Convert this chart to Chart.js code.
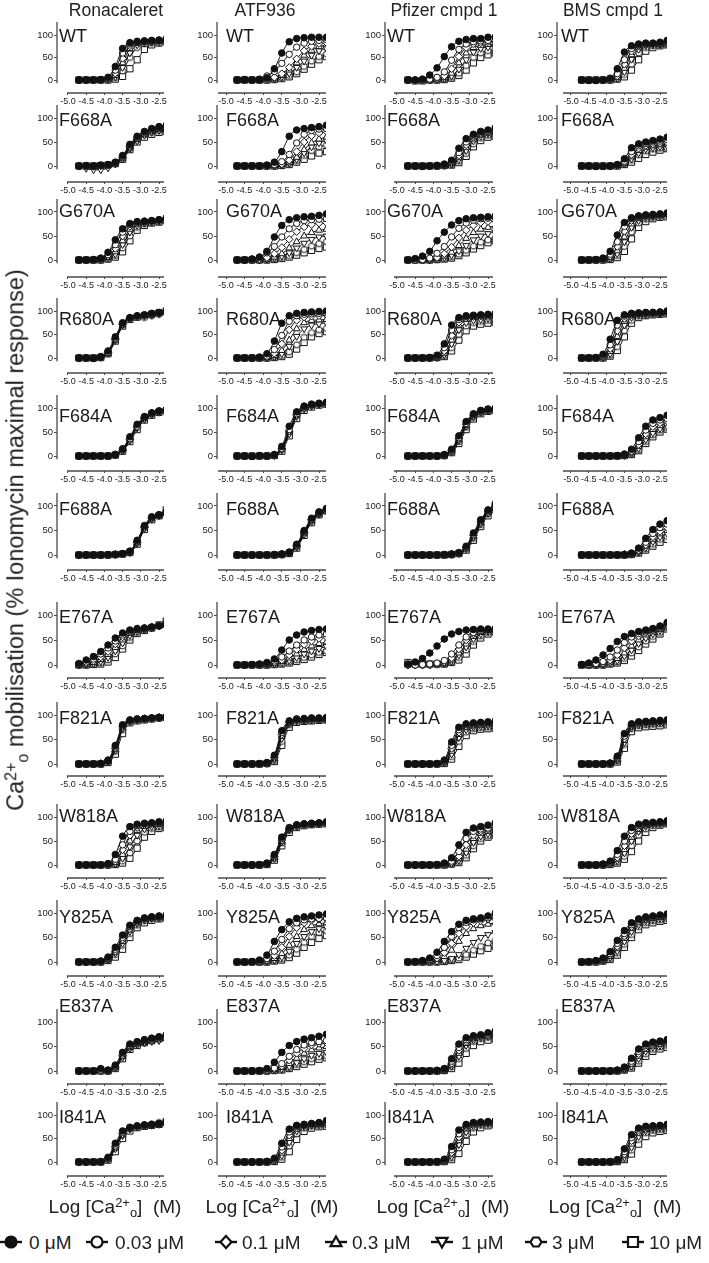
<!DOCTYPE html>
<html><head><meta charset="utf-8">
<script src="https://cdn.jsdelivr.net/npm/chart.js"></script>
<style>
body{margin:0;width:709px;height:1263px;background:#fff;position:relative;overflow:hidden;font-family:"Liberation Sans",Arial,sans-serif;color:#222}
canvas{position:absolute}
.t{position:absolute;white-space:nowrap;line-height:1;z-index:5}
.sp{position:relative;top:-0.45em;font-size:0.68em}
.sb{position:relative;top:0.32em;font-size:0.68em}
</style></head><body>
<script>
// ---------------- data ----------------
const X = [-4.7,-4.5,-4.3,-4.1,-3.9,-3.7,-3.5,-3.3,-3.1,-2.9,-2.7,-2.5,-2.3];
const X_TICKS = [-5.0,-4.5,-4.0,-3.5,-3.0,-2.5];
const Y_TICKS = [0,50,100];
const COMPOUNDS = ['Ronacaleret','ATF936','Pfizer cmpd 1','BMS cmpd 1'];
const MUTANTS = ['WT','F668A','G670A','R680A','F684A','F688A','E767A','F821A','W818A','Y825A','E837A','I841A'];
const CONCS = ['0 μM','0.03 μM','0.1 μM','0.3 μM','1 μM','3 μM','10 μM'];

const RON_WT = [[0,0,0,1,6,30,70,83,86,87,88,89,92],[0,0,0,0,4,22,60,80,85,86,87,88,90],[0,0,0,0,3,15,48,76,84,85,86,87,88],[0,0,0,0,2,10,38,70,82,84,85,86,88],[0,0,0,0,1,7,28,60,78,83,84,85,87],[0,0,0,0,1,5,20,50,72,80,82,84,86],[0,0,0,0,0,2,8,25,45,68,78,82,85]];
const RON_F668A = [[0,1,0,2,3,8,22,45,62,72,78,82,85],[0,0,0,1,2,7,20,42,60,70,76,80,82],[0,0,-1,0,2,6,18,40,58,68,74,78,80],[0,0,-2,-1,1,5,16,38,55,66,72,76,78],[0,-5,-8,-8,-4,4,15,36,52,64,70,74,76],[0,0,0,0,1,5,16,37,54,65,70,74,75],[0,0,0,1,2,5,14,34,50,60,66,70,72]];
const RON_G670A = [[0,0,1,4,16,42,65,76,80,81,82,84,88],[0,0,0,3,11,32,58,74,79,80,82,84,87],[0,0,0,2,8,24,50,70,78,80,81,83,86],[0,0,0,1,5,17,40,64,75,79,80,82,85],[0,0,0,1,4,12,32,58,72,77,79,81,84],[0,0,0,0,3,9,25,50,68,75,78,80,83],[0,0,0,0,2,6,17,40,62,72,77,79,82]];
const RON_R680A = [[0,0,-1,3,15,45,75,86,90,92,95,97,100],[0,0,0,2,12,42,73,85,89,91,94,96,98],[0,0,0,2,12,40,72,84,88,90,93,95,97],[0,0,0,2,10,38,70,84,88,90,92,95,98],[0,0,0,1,10,38,70,83,87,89,91,94,96],[0,0,0,2,11,40,72,84,88,86,90,93,96],[0,0,0,1,9,36,68,82,87,90,93,96,100]];
const RON_F684A = [[0,0,0,0,0,3,15,40,66,82,90,94,97],[0,0,0,0,0,2,13,36,62,80,88,93,96],[0,0,0,0,0,2,12,34,60,78,87,92,95],[0,0,0,0,0,3,14,38,64,80,89,93,96],[0,0,0,0,0,2,11,32,58,76,86,91,94],[0,0,0,0,0,2,12,35,62,79,88,92,95],[0,0,0,0,0,2,10,30,55,75,85,91,94]];
const RON_F688A = [[0,0,0,0,1,1,3,8,30,60,78,82,88],[0,0,0,0,0,1,2,7,28,58,76,82,86],[0,0,0,0,0,1,2,6,26,56,75,81,85],[0,0,0,0,0,1,2,6,25,55,74,80,84],[0,0,0,0,0,1,2,5,24,54,73,80,84],[0,0,0,0,0,1,2,6,26,57,76,82,90],[0,0,0,0,0,1,2,5,22,52,72,80,92]];
const RON_E767A = [[3,10,17,27,40,54,64,70,73,74,76,78,80],[1,6,12,22,34,48,60,68,72,74,76,78,80],[0,4,8,16,27,42,56,66,71,73,75,78,82],[0,2,5,11,21,35,50,63,69,72,75,78,83],[0,1,3,7,15,28,44,59,67,71,74,78,84],[0,0,2,4,10,22,38,55,65,70,74,79,86],[0,0,1,2,6,15,32,50,63,69,74,80,88]];
const RON_F821A = [[0,0,0,1,8,38,80,90,92,93,94,95,96],[0,0,0,1,7,35,78,89,91,93,94,95,96],[0,0,0,1,6,32,76,88,91,92,93,95,96],[0,0,0,0,5,30,74,88,90,92,93,95,96],[0,0,0,0,5,28,72,87,90,92,93,94,95],[0,0,0,0,4,26,70,86,90,91,93,94,95],[0,0,0,0,3,20,62,84,88,90,92,94,95]];
const RON_W818A = [[0,0,0,0,3,22,60,80,85,87,88,90,92],[0,0,0,0,2,12,42,70,82,86,87,88,90],[0,0,0,0,1,8,32,62,78,84,86,87,88],[0,0,0,0,1,5,22,50,72,80,84,85,86],[0,0,0,0,0,3,14,38,62,75,80,82,84],[0,0,0,0,0,2,8,25,50,68,76,79,82],[0,0,0,0,0,1,4,14,35,58,70,76,78]];
const RON_Y825A = [[0,0,0,2,10,30,55,75,85,90,92,94,96],[0,0,0,1,8,26,50,72,84,89,92,93,95],[0,0,0,1,7,22,46,68,82,88,90,92,94],[0,0,0,1,6,20,42,65,80,87,90,91,93],[0,0,0,1,5,18,38,62,78,86,89,90,92],[0,0,0,0,4,15,34,58,75,84,88,90,91],[0,0,0,0,3,10,26,50,70,80,85,88,90]];
const RON_E837A = [[0,0,0,5,2,12,38,55,60,64,67,70,74],[0,0,0,2,1,10,35,52,58,62,65,68,70],[0,0,0,1,0,8,32,50,56,60,63,66,68],[0,0,0,1,0,7,30,48,55,59,62,65,67],[0,0,0,0,0,6,28,46,53,57,60,62,64],[0,0,0,1,0,7,30,48,55,58,62,65,66],[0,0,0,0,0,5,25,44,52,58,62,66,70]];
const RON_I841A = [[0,0,0,1,10,40,66,74,77,79,80,82,85],[0,0,0,1,8,36,63,73,76,78,80,81,84],[0,0,0,0,7,33,60,72,76,78,79,81,83],[0,0,0,0,6,30,58,71,75,77,79,80,82],[0,0,0,0,5,28,56,70,75,77,78,80,82],[0,0,0,0,6,30,58,71,76,78,80,84,88],[0,0,0,0,4,22,50,66,73,76,78,80,86]];

const ATF_WT = [[0,1,0,1,5,25,60,85,92,94,95,95,95],[0,0,0,2,9,19,37,57,73,82,86,88,90],[0,0,0,0,3,6,14,28,47,65,75,81,83],[0,0,0,0,2,4,10,22,38,55,66,74,78],[0,0,0,0,1,3,7,15,28,42,55,65,70],[0,0,0,0,1,2,5,10,18,30,42,52,58],[0,0,0,0,0,1,3,7,14,24,35,45,52]];
const ATF_F668A = [[0,0,0,0,2,8,30,62,75,78,80,82,85],[0,0,0,0,1,3,9,24,48,66,74,77,78],[0,0,0,0,0,2,4,12,30,50,63,69,72],[0,0,0,0,0,1,3,8,18,34,48,56,60],[0,0,0,0,0,1,2,6,14,27,40,48,53],[0,0,0,0,0,0,2,5,11,22,32,40,44],[0,0,0,0,0,0,1,3,8,14,21,27,30]];
const ATF_G670A = [[0,0,2,6,18,48,72,84,88,90,91,93,96],[0,0,2,6,15,28,48,65,76,82,84,85,86],[0,0,0,2,5,13,26,43,59,69,74,77,78],[0,0,0,1,2,6,13,25,38,50,57,62,64],[0,0,0,0,1,4,8,15,25,35,43,48,50],[0,0,0,0,1,2,5,9,15,22,29,34,38],[0,0,0,0,0,1,3,6,10,15,20,24,27]];
const ATF_R680A = [[0,0,0,2,9,36,74,90,95,97,98,99,100],[0,0,0,1,4,18,48,78,90,93,94,95,96],[0,0,0,0,2,10,30,60,80,87,89,90,92],[0,0,0,0,1,5,16,38,62,75,80,81,82],[0,0,0,0,1,3,9,25,46,62,70,73,75],[0,0,0,0,0,2,5,13,28,44,54,60,63],[0,0,0,0,0,1,3,8,19,33,45,52,56]];
const ATF_F684A = [[0,0,-1,1,0,3,20,62,92,104,108,110,112],[0,0,0,0,0,2,16,55,88,102,107,109,110],[0,0,0,0,0,2,15,52,86,100,106,108,110],[0,0,0,0,0,2,14,50,85,100,105,108,110],[0,0,0,0,0,1,12,46,82,98,104,107,108],[0,0,0,0,0,2,14,50,85,99,105,108,109],[0,0,0,0,0,1,10,42,78,95,102,106,108]];
const ATF_F688A = [[0,0,0,0,0,1,2,6,22,50,75,88,95],[0,0,0,0,0,1,2,5,20,48,73,86,93],[0,0,0,0,0,0,2,5,19,46,72,85,92],[0,0,0,0,0,0,1,4,18,45,70,84,92],[0,0,0,0,0,0,1,4,16,42,68,83,90],[0,0,0,0,0,0,1,4,17,44,70,84,91],[0,0,0,0,0,0,1,3,14,40,66,82,90]];
const ATF_E767A = [[0,0,1,2,5,12,30,50,60,66,69,71,72],[0,0,0,1,3,8,16,28,40,50,56,60,62],[0,0,0,1,2,5,10,20,31,41,48,53,56],[0,0,0,0,1,3,7,14,22,31,38,43,46],[0,0,0,0,1,2,5,9,15,22,28,33,37],[0,0,0,0,0,1,3,6,10,15,20,25,28],[0,0,0,0,0,1,2,4,7,11,16,21,25]];
const ATF_F821A = [[0,0,0,1,3,18,68,88,92,93,94,94,95],[0,0,0,0,2,15,64,86,91,92,93,93,94],[0,0,0,0,2,13,60,85,90,91,92,92,93],[0,0,0,0,1,11,56,83,89,90,91,91,92],[0,0,0,0,1,9,52,82,88,89,90,90,91],[0,0,0,0,1,7,46,80,87,88,89,90,90],[0,0,0,0,1,5,38,75,85,87,88,89,90]];
const ATF_W818A = [[0,0,0,1,4,22,58,78,84,86,87,88,90],[0,0,0,0,3,20,55,76,83,85,86,87,89],[0,0,0,0,3,18,52,75,82,85,86,87,88],[0,0,0,0,2,16,50,74,82,84,85,86,88],[0,0,0,0,2,14,48,73,81,84,85,86,87],[0,0,0,0,2,13,46,72,80,83,85,86,87],[0,0,0,0,1,10,40,68,78,82,84,85,86]];
const ATF_Y825A = [[0,0,1,4,14,42,66,82,89,92,94,96,98],[0,0,0,2,7,22,46,68,80,86,88,89,90],[0,0,0,1,4,13,30,52,70,80,85,87,88],[0,0,0,0,2,7,17,34,52,66,74,78,80],[0,0,0,0,1,4,10,22,38,52,62,68,72],[0,0,0,0,1,3,6,14,26,40,52,60,64],[0,0,0,0,0,2,4,9,18,30,40,48,54]];
const ATF_E837A = [[0,0,0,1,5,18,38,52,60,65,68,71,75],[0,0,0,0,2,6,15,30,44,53,58,60,62],[0,0,0,0,1,4,10,22,36,46,53,56,58],[0,0,0,0,1,3,7,15,26,36,43,47,50],[0,0,0,0,0,2,4,9,17,25,32,36,38],[0,0,0,0,0,1,3,7,13,19,25,29,31],[0,0,0,0,0,1,2,5,9,14,19,24,27]];
const ATF_I841A = [[0,0,0,0,1,8,40,70,78,80,82,84,88],[0,0,0,0,1,6,32,64,76,80,81,83,85],[0,0,0,0,1,4,25,57,73,78,80,82,84],[0,0,0,0,0,3,19,50,70,77,79,80,82],[0,0,0,0,0,2,14,42,66,75,78,79,80],[0,0,0,0,0,2,10,34,60,72,76,78,79],[0,0,0,0,0,1,6,22,48,65,72,75,76]];

const PFZ_WT = [[0,0,2,11,27,52,74,86,90,92,92,95,96],[0,0,0,2,6,18,44,68,80,85,87,88,88],[0,0,0,1,3,9,25,52,72,80,83,85,85],[0,0,0,0,2,5,15,38,60,72,77,79,80],[0,0,0,0,1,3,9,24,45,62,70,73,75],[0,0,0,0,0,2,6,15,32,50,60,65,68],[0,-2,-2,0,0,1,4,10,22,38,50,56,60]];
const PFZ_F668A = [[0,0,-1,0,1,4,12,37,57,66,72,75,80],[0,0,0,0,1,3,9,28,50,63,69,72,76],[0,0,0,0,1,2,7,22,44,60,67,70,74],[0,0,0,0,0,2,5,17,38,56,65,69,72],[0,0,0,0,0,1,4,13,32,52,62,67,70],[0,0,0,0,0,1,3,10,26,46,58,64,68],[0,0,0,0,0,1,2,7,20,40,53,60,62]];
const PFZ_G670A = [[0,3,8,18,40,58,73,82,86,88,89,90,92],[0,0,1,4,14,28,48,66,77,83,86,87,88],[0,0,0,2,5,13,27,46,62,72,78,80,82],[0,0,0,1,3,8,16,30,45,57,64,68,71],[0,0,0,0,2,5,10,19,30,42,50,55,58],[0,0,0,0,1,3,6,12,20,29,37,42,46],[0,0,0,0,1,2,4,9,15,23,30,36,40]];
const PFZ_R680A = [[0,0,0,1,6,30,70,86,90,91,92,93,95],[0,0,0,1,4,22,60,82,88,90,91,92,93],[0,0,0,0,3,15,48,76,85,88,89,90,92],[0,0,0,0,2,10,38,70,82,86,88,89,90],[0,0,0,0,1,7,30,60,75,80,82,84,85],[0,0,0,0,1,5,22,50,68,75,78,80,82],[0,0,0,0,1,3,15,38,58,68,72,74,76]];
const PFZ_F684A = [[0,0,0,0,0,3,14,42,72,88,95,98,100],[0,0,0,0,0,2,12,38,68,86,94,97,99],[0,0,0,0,0,2,11,36,66,84,93,96,98],[0,0,0,0,0,2,10,34,64,83,92,96,98],[0,0,0,0,0,1,9,32,62,82,91,95,97],[0,0,0,0,0,1,8,30,60,80,90,94,96],[0,0,0,0,0,1,7,26,55,77,88,93,95]];
const PFZ_F688A = [[0,0,0,0,0,1,2,5,18,45,72,92,105],[0,0,0,0,0,1,2,4,16,42,70,90,102],[0,0,0,0,0,0,1,4,15,40,68,88,100],[0,0,0,0,0,0,1,4,14,38,66,87,98],[0,0,0,0,0,0,1,3,13,36,64,85,96],[0,0,0,0,0,0,1,3,12,34,62,84,95],[0,0,0,0,0,0,1,3,10,30,58,80,92]];
const PFZ_E767A = [[2,6,13,24,38,52,62,67,70,71,72,72,73],[0,0,1,2,4,9,22,40,56,65,69,71,72],[0,0,0,1,3,6,14,32,50,62,68,70,72],[0,0,0,1,2,4,10,24,42,57,65,69,71],[0,0,0,0,2,3,8,20,36,52,62,67,70],[0,0,0,0,1,2,6,15,30,47,58,65,68],[5,3,2,2,2,2,5,10,22,40,54,62,66]];
const PFZ_F821A = [[0,0,0,0,1,8,45,75,82,84,85,86,88],[0,0,0,0,1,6,38,70,80,82,83,84,85],[0,0,0,0,0,5,32,65,77,80,81,82,83],[0,0,0,0,0,4,26,60,74,78,79,80,81],[0,0,0,0,0,3,20,54,70,75,77,78,78],[0,0,0,0,0,2,15,46,65,72,74,75,76],[0,0,0,0,0,1,10,36,58,68,71,72,73]];
const PFZ_W818A = [[0,0,0,0,1,4,15,42,68,77,80,83,88],[0,0,0,0,0,2,8,28,55,70,75,77,80],[0,0,0,0,0,1,5,18,42,62,71,74,76],[0,0,0,0,0,1,4,13,33,55,66,70,72],[0,0,0,0,0,1,3,10,26,47,60,65,68],[0,0,0,0,0,0,2,7,20,40,55,61,64],[0,0,0,0,0,0,2,5,15,34,50,58,62]];
const PFZ_Y825A = [[0,1,3,8,20,42,62,77,85,88,90,94,100],[0,0,2,5,13,30,52,70,81,86,88,90,92],[0,0,1,3,8,19,38,58,72,80,84,87,88],[0,0,0,2,5,11,24,42,58,68,74,77,80],[0,0,0,0,1,3,7,15,28,40,50,56,60],[0,0,0,0,1,2,4,8,15,24,32,39,44],[0,0,0,0,0,1,3,5,10,16,23,28,32]];
const PFZ_E837A = [[0,0,0,0,1,5,25,55,68,72,74,78,82],[0,0,0,0,1,4,20,48,64,70,72,75,78],[0,0,0,0,1,3,16,42,60,68,71,74,76],[0,0,0,0,0,2,12,36,56,66,70,72,74],[0,0,0,0,0,2,10,30,52,63,68,70,72],[0,0,0,0,0,1,8,25,46,60,66,69,71],[0,0,0,0,0,1,5,16,36,52,60,63,65]];
const PFZ_I841A = [[0,0,0,0,1,6,33,68,80,84,85,86,88],[0,0,0,0,1,4,26,60,77,83,84,85,87],[0,0,0,0,0,3,20,53,74,81,83,84,86],[0,0,0,0,0,2,15,45,70,79,82,83,85],[0,0,0,0,0,2,11,37,64,76,80,82,84],[0,0,0,0,0,1,8,30,58,72,78,80,82],[0,0,0,0,0,1,5,18,44,64,73,77,79]];

const BMS_WT = [[0,-1,-1,0,4,25,62,76,80,82,82,84,88],[0,0,0,0,2,14,45,70,78,80,81,82,85],[0,0,0,0,1,9,35,64,76,79,80,81,83],[0,0,0,0,1,6,26,56,73,78,80,80,82],[0,0,0,0,0,4,18,46,68,76,78,79,80],[0,0,0,0,0,3,12,35,60,72,76,78,80],[0,0,0,0,0,2,7,22,45,64,72,76,78]];
const BMS_F668A = [[0,0,-1,-1,0,3,15,38,46,50,53,56,60],[0,0,0,0,0,2,10,30,42,47,50,52,55],[0,0,0,0,0,2,8,24,37,43,46,48,50],[0,0,0,0,0,1,6,19,32,39,42,44,46],[0,0,0,0,0,1,5,15,27,35,38,40,42],[0,0,0,0,0,1,4,12,23,31,35,37,38],[0,0,0,0,0,0,3,8,16,24,29,33,36]];
const BMS_G670A = [[0,0,1,4,18,52,78,88,92,94,95,96,98],[0,0,0,3,12,38,70,86,91,93,94,95,97],[0,0,0,2,8,28,60,82,89,92,93,94,96],[0,0,0,1,5,19,48,75,86,90,92,93,95],[0,0,0,1,3,13,38,68,82,88,90,92,94],[0,0,0,0,2,9,28,58,77,85,89,91,93],[0,0,0,0,1,5,18,44,68,80,86,89,90]];
const BMS_R680A = [[0,0,1,8,40,80,92,95,96,97,97,98,100],[0,0,0,5,28,70,89,94,95,96,97,97,99],[0,0,0,3,20,58,84,92,94,95,96,97,98],[0,0,0,2,14,46,78,90,93,94,95,96,97],[0,0,0,1,9,35,70,86,92,93,94,95,96],[0,0,0,1,6,24,58,80,89,92,93,94,95],[0,0,0,0,4,16,45,74,86,90,92,93,94]];
const BMS_F684A = [[0,0,0,0,0,1,4,14,38,62,75,80,85],[0,0,0,0,0,1,3,10,30,54,68,75,78],[0,0,0,0,0,0,2,8,24,46,61,69,73],[0,0,0,0,0,0,2,7,20,40,55,63,68],[0,0,0,0,0,0,1,5,16,34,48,57,62],[0,0,0,0,0,0,1,4,13,30,44,54,59],[0,0,0,0,0,0,1,3,11,26,40,50,56]];
const BMS_F688A = [[0,0,0,0,0,0,1,4,14,34,52,63,70],[0,0,0,0,0,0,1,3,10,26,44,56,63],[0,0,0,0,0,0,1,2,8,21,37,48,56],[0,0,0,0,0,0,1,2,7,18,32,43,50],[0,0,0,0,0,0,0,2,6,15,27,37,44],[0,0,0,0,0,0,0,1,5,12,22,32,38],[0,0,0,0,0,0,0,1,4,10,18,26,32]];
const BMS_E767A = [[1,4,10,20,33,47,57,63,67,70,73,78,85],[0,1,3,7,16,30,45,56,63,68,72,76,82],[0,0,2,4,10,20,34,48,58,65,70,74,80],[0,0,1,2,6,13,24,38,50,60,66,72,78],[0,0,0,1,4,9,18,30,43,54,62,69,76],[0,0,0,1,3,6,13,24,36,48,57,65,74],[0,0,0,0,2,4,9,18,29,42,52,62,72]];
const BMS_F821A = [[0,0,0,0,2,16,62,82,86,87,88,89,90],[0,0,0,0,1,13,57,80,84,86,87,88,89],[0,0,0,0,1,11,52,78,83,85,86,87,88],[0,0,0,0,1,9,48,76,82,84,85,86,87],[0,0,0,0,1,8,44,74,80,82,83,84,85],[0,0,0,0,0,6,40,72,78,80,81,82,83],[0,0,0,0,0,4,32,66,74,76,77,78,80]];
const BMS_W818A = [[0,0,0,2,8,30,60,78,85,88,89,90,92],[0,0,0,1,6,22,50,72,82,86,88,89,90],[0,0,0,1,4,16,40,65,78,84,86,88,89],[0,0,0,1,3,12,32,58,74,82,85,87,88],[0,0,0,0,2,9,25,50,70,80,84,86,88],[0,0,0,0,2,6,18,40,62,75,82,85,87],[0,0,0,0,1,4,12,28,50,68,78,83,86]];
const BMS_Y825A = [[0,1,3,8,21,44,64,80,88,92,94,96,98],[0,0,2,6,17,38,58,76,86,90,92,94,96],[0,0,2,5,14,32,53,72,83,88,91,93,94],[0,0,1,4,11,27,48,68,80,86,89,91,92],[0,0,1,3,9,22,42,62,76,84,87,89,90],[0,0,1,2,7,18,36,56,72,80,84,86,88],[0,0,0,2,5,14,30,50,66,76,80,83,85]];
const BMS_E837A = [[0,0,0,0,0,2,8,26,45,55,59,61,64],[0,0,0,0,0,1,6,20,40,52,57,60,62],[0,0,0,0,0,1,5,16,35,48,54,57,60],[0,0,0,0,0,1,4,13,30,44,51,55,57],[0,0,0,0,0,1,3,10,25,40,48,52,55],[0,0,0,0,0,0,2,8,20,35,44,49,52],[0,0,0,0,0,0,2,6,16,30,40,45,48]];
const BMS_I841A = [[0,0,0,0,1,5,28,58,72,76,77,78,80],[0,0,0,0,1,4,22,52,68,74,76,77,78],[0,0,0,0,0,3,17,45,64,71,74,75,76],[0,0,0,0,0,2,13,38,60,69,72,74,75],[0,0,0,0,0,2,10,31,54,66,70,72,73],[0,0,0,0,0,1,7,25,48,62,67,69,70],[0,0,0,0,0,1,5,17,38,54,62,65,67]];

const PANELS = [
  [RON_WT, ATF_WT, PFZ_WT, BMS_WT],
  [RON_F668A, ATF_F668A, PFZ_F668A, BMS_F668A],
  [RON_G670A, ATF_G670A, PFZ_G670A, BMS_G670A],
  [RON_R680A, ATF_R680A, PFZ_R680A, BMS_R680A],
  [RON_F684A, ATF_F684A, PFZ_F684A, BMS_F684A],
  [RON_F688A, ATF_F688A, PFZ_F688A, BMS_F688A],
  [RON_E767A, ATF_E767A, PFZ_E767A, BMS_E767A],
  [RON_F821A, ATF_F821A, PFZ_F821A, BMS_F821A],
  [RON_W818A, ATF_W818A, PFZ_W818A, BMS_W818A],
  [RON_Y825A, ATF_Y825A, PFZ_Y825A, BMS_Y825A],
  [RON_E837A, ATF_E837A, PFZ_E837A, BMS_E837A],
  [RON_I841A, ATF_I841A, PFZ_I841A, BMS_I841A]
];

// ---------------- layout (pixels) ----------------
const COLS = [
  {ya:57,  xs:67,  xe:164, x5:68,  ppu:36.4, lab:2, title:116, cx:115},
  {ya:217, xs:218, xe:326, x5:226, ppu:37.2, lab:9, title:265, cx:272},
  {ya:385, xs:394, xe:493, x5:397, ppu:36.4, lab:2, title:444, cx:443},
  {ya:557, xs:563, xe:667, x5:571, ppu:35.6, lab:4, title:613, cx:615}
];
const ROWS = [
  {y100:35,  y0:80,   xa:93,   lb:7},
  {y100:118, y0:166,  xa:182,  lb:8},
  {y100:212, y0:260,  xa:277,  lb:5},
  {y100:311, y0:358,  xa:373,  lb:14},
  {y100:408, y0:456,  xa:471,  lb:14},
  {y100:506, y0:555,  xa:570,  lb:9},
  {y100:615, y0:665,  xa:678,  lb:8},
  {y100:715, y0:764,  xa:776,  lb:9},
  {y100:817, y0:865,  xa:878,  lb:5},
  {y100:913, y0:962,  xa:976,  lb:10},
  {y100:1022,y0:1071, xa:1084, lb:-10},
  {y100:1115,y0:1162, xa:1176, lb:8}
];
const INK = '#111';
const AXIS = '#4a4a4a';

function hexCanvas(r, lw){
  const s = Math.ceil(2*r + lw + 2);
  const c = document.createElement('canvas'); c.width = s; c.height = s;
  const g = c.getContext('2d');
  g.beginPath();
  for (let i=0;i<6;i++){ const a=i*Math.PI/3; const px=s/2+r*Math.cos(a), py=s/2+r*Math.sin(a)*0.95; i?g.lineTo(px,py):g.moveTo(px,py);}
  g.closePath(); g.fillStyle='#fff'; g.fill(); g.lineWidth=lw; g.strokeStyle=INK; g.stroke();
  return c;
}
const HEX = hexCanvas(3.4, 1);
const STYLES = [
  {ps:'circle', r:3.3, fill:INK, rot:0},
  {ps:'circle', r:3.2, fill:'#fff', rot:0},
  {ps:'rectRot', r:3.8, fill:'#fff', rot:0},
  {ps:'triangle', r:3.9, fill:'#fff', rot:0},
  {ps:'triangle', r:3.9, fill:'#fff', rot:180},
  {ps:HEX, r:3.6, fill:'#fff', rot:0},
  {ps:'rect', r:4.4, fill:'#fff', rot:0}
];

const axisLines = {
  id:'axisLines',
  afterDraw(chart, args, opts){
    const {ctx, chartArea:a, scales:{x,y}} = chart;
    ctx.save(); ctx.strokeStyle = AXIS; ctx.lineWidth = 1.3;
    ctx.beginPath();
    ctx.moveTo(a.left, a.top); ctx.lineTo(a.left, y.getPixelForValue(-7));
    ctx.moveTo(x.getPixelForValue(opts.xStart), a.bottom); ctx.lineTo(a.right, a.bottom);
    ctx.stroke(); ctx.restore();
  }
};

function addText(html, left, top, size, extra){
  const d = document.createElement('div'); d.className='t';
  d.innerHTML = html; d.style.left = left+'px'; d.style.top = top+'px'; d.style.fontSize = size+'px';
  if (extra) Object.assign(d.style, extra);
  document.body.appendChild(d); return d;
}

const PADT = 10, PADR = 8, YW = 40, XH = 22;
function makePanel(ri, ci){
  const c = COLS[ci], r = ROWS[ri];
  const ppv = (r.y0 - r.y100)/100;
  const top = r.y100 - 13;
  const ymax = 100 + 13/ppv;
  const ymin = -(r.xa - r.y0)/ppv;
  const left = c.ya - YW;
  const W = YW + (c.xe - c.ya) + PADR;
  const H = PADT + (r.xa - top) + XH;
  const xmin = -5 - (c.x5 - c.ya)/c.ppu;
  const xmax = -5 + (c.xe - c.x5)/c.ppu;
  const xStart = -5 - (c.x5 - c.xs)/c.ppu;
  const cv = document.createElement('canvas');
  cv.width = W; cv.height = H;
  cv.style.left = left+'px'; cv.style.top = (top-PADT)+'px';
  cv.style.width = W+'px'; cv.style.height = H+'px';
  document.body.appendChild(cv);
  const series = PANELS[ri][ci];
  const datasets = series.map((vals, si) => ({
    label: CONCS[si],
    data: X.map((x,i)=>({x, y: vals[i]})),
    showLine: true, borderColor: INK, borderWidth: 1,
    cubicInterpolationMode: 'monotone',
    pointStyle: STYLES[si].ps, pointRadius: STYLES[si].r, pointRotation: STYLES[si].rot,
    pointBackgroundColor: STYLES[si].fill, pointBorderColor: INK, pointBorderWidth: 1,
    fill: false
  }));
  new Chart(cv, {
    type: 'scatter',
    data: {datasets},
    options: {
      responsive:false, animation:false, devicePixelRatio:1,
      layout:{padding:{top:PADT, right:PADR, left:0, bottom:0}},
      plugins:{legend:{display:false}, tooltip:{enabled:false}, axisLines:{xStart}},
      scales:{
        x:{type:'linear', min:xmin, max:xmax,
           afterFit:s=>{s.height=XH;},
           afterBuildTicks:s=>{s.ticks = X_TICKS.map(v=>({value:v}));},
           grid:{display:true, drawOnChartArea:false, drawTicks:true, tickLength:2, color:AXIS, lineWidth:1},
           border:{display:false},
           ticks:{autoSkip:false, maxRotation:0, padding:1, color:'#222', font:{family:'Liberation Sans', size:9}, callback:v=>Number(v).toFixed(1)}},
        y:{type:'linear', min:ymin, max:ymax,
           afterFit:s=>{s.width=YW;},
           afterBuildTicks:s=>{s.ticks = Y_TICKS.map(v=>({value:v}));},
           grid:{display:true, drawOnChartArea:false, drawTicks:true, tickLength:3, color:AXIS, lineWidth:1},
           border:{display:false},
           ticks:{padding:1, color:'#222', font:{family:'Liberation Sans', size:9.5}}}
      }
    },
    plugins:[axisLines]
  });
  // row label
  addText(MUTANTS[ri], c.ya + c.lab, r.y100 + r.lb - 15, 18, {color:'#1a1a1a'});
}

for (let ri=0; ri<ROWS.length; ri++) for (let ci=0; ci<COLS.length; ci++) makePanel(ri, ci);

// column titles
COMPOUNDS.forEach((t,ci)=>{ const d = addText(t, COLS[ci].title, 2, 17.5); d.style.transform='translateX(-50%)'; });
// x axis titles
COLS.forEach(c=>{ const d = addText('Log [Ca<span class="sp">2+</span><span class="sb">o</span>]&nbsp;&nbsp;(M)', c.cx, 1197, 19); d.style.transform='translateX(-50%)'; });
// y axis title
addText('Ca<span class="sp">2+</span><span class="sb">o</span> mobilisation (% Ionomycin maximal response)', 16, 540, 23.5, {transform:'translate(-50%,-50%) rotate(-90deg)'});

// legend
const LEG_MARK = [11, 97, 226, 336, 442, 536, 633];
const LEG_TEXT = [29, 115, 242, 352, 461, 552, 649];
const LEG_Y = 1242;
function legendMarker(si, cx){
  const cv = document.createElement('canvas'); cv.width = 30; cv.height = 20;
  cv.style.left = (cx-15)+'px'; cv.style.top = (LEG_Y-10)+'px'; cv.style.width='30px'; cv.style.height='20px';
  document.body.appendChild(cv);
  const g = cv.getContext('2d');
  g.strokeStyle = INK; g.lineWidth = 2.4;
  g.beginPath(); g.moveTo(4,10); g.lineTo(26,10); g.stroke();
  g.fillStyle = STYLES[si].fill; g.lineWidth = 2.2;
  g.beginPath();
  const R = 5.5;
  if (si<=1){ g.arc(15,10,R,0,Math.PI*2); }
  else if (si===2){ g.moveTo(15,10-R-0.5); g.lineTo(15+R,10); g.lineTo(15,10+R+0.5); g.lineTo(15-R,10); g.closePath(); }
  else if (si===3){ g.moveTo(15,10-R); g.lineTo(15+R,10+R*0.75); g.lineTo(15-R,10+R*0.75); g.closePath(); }
  else if (si===4){ g.moveTo(15,10+R); g.lineTo(15+R,10-R*0.75); g.lineTo(15-R,10-R*0.75); g.closePath(); }
  else if (si===5){ for(let i=0;i<6;i++){const a=i*Math.PI/3; const px=15+R*Math.cos(a), py=10+R*Math.sin(a)*0.95; i?g.lineTo(px,py):g.moveTo(px,py);} g.closePath(); }
  else { g.rect(15-R+0.5,10-R+0.5,2*R-1,2*R-1); }
  g.fill(); g.stroke();
}
CONCS.forEach((t,si)=>{ legendMarker(si, LEG_MARK[si]); addText(t, LEG_TEXT[si], LEG_Y-9, 19); });
</script>
</body></html>
